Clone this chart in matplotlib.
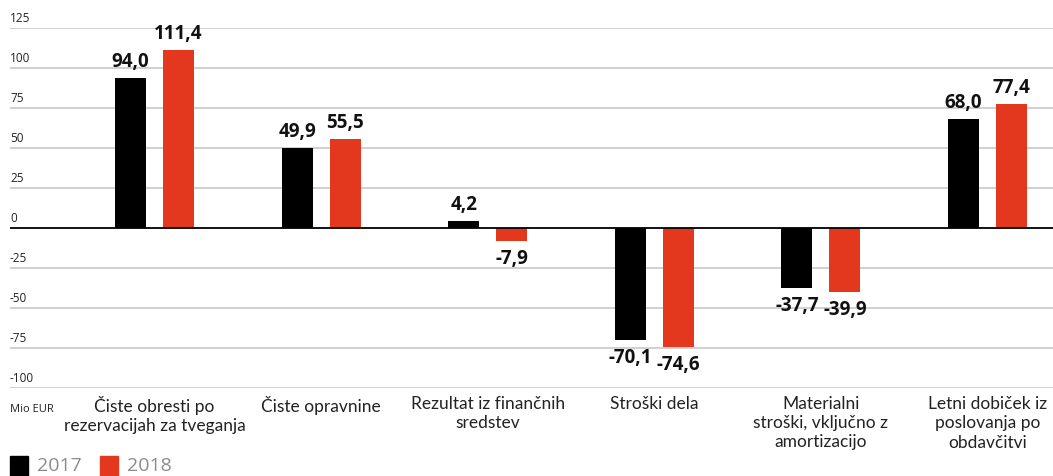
import matplotlib.pyplot as plt
import numpy as np
from matplotlib.transforms import blended_transform_factory
from matplotlib.patches import Rectangle

# data (Mio EUR)
categories = ['Čiste obresti po\nrezervacijah za tveganja',
              'Čiste opravnine',
              'Rezultat iz finančnih\nsredstev',
              'Stroški dela',
              'Materialni\nstroški, vključno z\namortizacijo',
              'Letni dobiček iz\nposlovanja po\nobdavčitvi']
vals_2017 = [94.0, 49.9, 4.2, -70.1, -37.7, 68.0]
vals_2018 = [111.4, 55.5, -7.9, -74.6, -39.9, 77.4]
years = ['2017', '2018']
yticks = [125, 100, 75, 50, 25, 0, -25, -50, -75, -100]

black = '#000000'
red = '#e3371e'

def fmt(v):
    return ('%.1f' % v).replace('.', ',')

fig = plt.figure(figsize=(10.53, 4.77), dpi=100)
W, H = 1053, 477
ax = fig.add_axes([10 / W, (H - 389) / H, 1 - 10 / W, 360 / H])

x = np.arange(len(categories))
bw = 0.186
off = 0.144
ax.bar(x - off, vals_2017, bw, color=black, zorder=3)
ax.bar(x + off, vals_2018, bw, color=red, zorder=3)

ax.set_xlim(-0.867, 5.393)
ax.set_ylim(-100, 125)

# gridlines + tick labels
trans = blended_transform_factory(ax.transAxes, ax.transData)
for t in yticks:
    if t == 0:
        ax.axhline(0, color='black', lw=1.3, zorder=4)
    else:
        ax.axhline(t, color='#c8c8c8', lw=1.2, zorder=1)
    ax.text(0, t + 2.5, str(t), transform=trans, ha='left', va='bottom',
            fontsize=8.5, color='#222222', family='Open Sans')

for s in ax.spines.values():
    s.set_visible(False)
ax.set_xticks([])
ax.set_yticks([])

# value labels
for xs, vals in ((x - off, vals_2017), (x + off, vals_2018)):
    for xi, v in zip(xs, vals):
        if v >= 0:
            ax.annotate(fmt(v), (xi, v), xytext=(0, 5), textcoords='offset points',
                        ha='center', va='bottom', fontsize=13.5, fontweight='bold',
                        family='Open Sans', color='#111111')
        else:
            ax.annotate(fmt(v), (xi, v), xytext=(0, -5), textcoords='offset points',
                        ha='center', va='top', fontsize=13.5, fontweight='bold',
                        family='Open Sans', color='#111111')

# category labels
xt = blended_transform_factory(ax.transData, fig.transFigure)
for xi, c in zip(x, categories):
    ax.text(xi, 1 - 396 / H, c, transform=xt, ha='center', va='top',
            fontsize=12.5, family='Lato', color='#222222', linespacing=1.25)

fig.text(10 / W, 1 - 410 / H, 'Mio EUR', ha='left', va='center',
         fontsize=8, family='Open Sans', color='#222222')

# legend
for i, (yr, col) in enumerate(zip(years, [black, red])):
    x0 = 10 + i * 90
    fig.patches.append(Rectangle((x0 / W, 0), 18 / W, 20 / H, transform=fig.transFigure,
                                 color=col, figure=fig))
    fig.text((x0 + 27) / W, 1 - 466 / H, yr, ha='left', va='center',
             fontsize=14, family='Open Sans', color='#8c8c8c')

fig.savefig('out.png', dpi=100)
